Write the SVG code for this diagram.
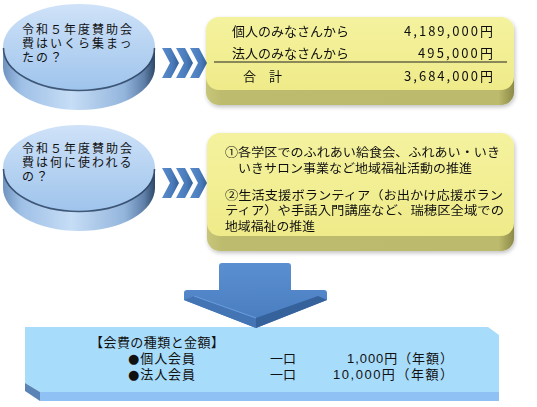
<svg xmlns="http://www.w3.org/2000/svg" width="537" height="407" viewBox="0 0 537 407">
<defs>
<linearGradient id="cylSide" x1="0" y1="0" x2="1" y2="0">
<stop offset="0" stop-color="#6f93bf"/>
<stop offset="0.12" stop-color="#9fc0e6"/>
<stop offset="0.45" stop-color="#c6ddf6"/>
<stop offset="0.8" stop-color="#93b5dc"/>
<stop offset="0.93" stop-color="#5f7fa8"/>
<stop offset="1" stop-color="#2c4768"/>
</linearGradient>
<linearGradient id="cylTop" x1="0" y1="0" x2="0" y2="1">
<stop offset="0" stop-color="#cfe2f8"/>
<stop offset="1" stop-color="#9fc4ec"/>
</linearGradient>
<linearGradient id="chev" x1="0" y1="0" x2="1" y2="0">
<stop offset="0" stop-color="#5a8ccc"/>
<stop offset="0.6" stop-color="#4a7cbc"/>
<stop offset="1" stop-color="#34609a"/>
</linearGradient>
<linearGradient id="yFace" x1="0" y1="0" x2="0" y2="1">
<stop offset="0" stop-color="#f4f29e"/>
<stop offset="1" stop-color="#efeb8a"/>
</linearGradient>
<linearGradient id="ySide" x1="0" y1="0" x2="1" y2="0">
<stop offset="0" stop-color="#c8c67a"/>
<stop offset="0.05" stop-color="#bdbb6d"/>
<stop offset="0.95" stop-color="#bcba6c"/>
<stop offset="1" stop-color="#8c8a48"/>
</linearGradient>
<linearGradient id="arrowG" x1="0" y1="0" x2="0" y2="1">
<stop offset="0" stop-color="#5a8fd2"/>
<stop offset="1" stop-color="#477bbd"/>
</linearGradient>
<filter id="sh" x="-5%" y="-5%" width="110%" height="120%">
<feGaussianBlur in="SourceAlpha" stdDeviation="2"/>
<feOffset dx="1" dy="2"/>
<feComponentTransfer><feFuncA type="linear" slope="0.25"/></feComponentTransfer>
<feMerge><feMergeNode/><feMergeNode in="SourceGraphic"/></feMerge>
</filter>
<polygon id="chevShape" points="0,0 9,0 17,15 9,30 0,30 8,15" fill="url(#chev)"/>
</defs>
<style>
text{font-family:"Liberation Sans","Noto Sans CJK JP","Noto Sans CJK SC",sans-serif;fill:#111;}
.cyl{font-size:12px;letter-spacing:2px;}
.yb{font-size:13px;}
.num{font-family:"Noto Sans CJK JP","Noto Sans CJK SC",sans-serif;}
.yb2{font-size:12px;}
.bt{font-size:13px;}
.dot{font-family:"DejaVu Sans",sans-serif;}
.rim{fill:none;stroke:#2a4262;stroke-width:1.6;stroke-opacity:0.85;}
</style>

<g id="cyl1">
<path d="M3,47 V67 A76,43 0 0 0 155,67 V47 Z" fill="url(#cylSide)"/>
<ellipse cx="79" cy="47" rx="76" ry="43" fill="url(#cylTop)"/>
<path class="rim" d="M3.5,48 A75.5,42.5 0 0 0 154.5,48"/>
<text class="cyl" x="22" y="33.5">令和５年度賛助会</text>
<text class="cyl" x="22" y="47.5">費はいくら集まっ</text>
<text class="cyl" x="22" y="61.5">たの？</text>
</g>

<g id="box1" filter="url(#sh)">
<rect x="206" y="30" width="308" height="75" rx="13" fill="url(#ySide)"/>
<rect x="206" y="17" width="308" height="73" rx="13" fill="url(#yFace)"/>
<text class="yb" x="232" y="35.5">個人のみなさんから</text>
<text class="yb num" x="493" y="35.5" text-anchor="end" textLength="89" lengthAdjust="spacing">4,189,000円</text>
<text class="yb" x="232" y="57.5">法人のみなさんから</text>
<text class="yb num" x="493" y="57.5" text-anchor="end" textLength="75" lengthAdjust="spacing">495,000円</text>
<line x1="214" y1="62" x2="507" y2="62" stroke="#222" stroke-width="1"/>
<text class="yb" x="243" y="80.5">合　計</text>
<text class="yb num" x="493" y="80.5" text-anchor="end" textLength="89" lengthAdjust="spacing">3,684,000円</text>
</g>

<g id="cyl2">
<path d="M3,168 V188 A76,43 0 0 0 155,188 V168 Z" fill="url(#cylSide)"/>
<ellipse cx="79" cy="168" rx="76" ry="43" fill="url(#cylTop)"/>
<path class="rim" d="M3.5,169 A75.5,42.5 0 0 0 154.5,169"/>
<text class="cyl" x="22" y="153">令和５年度賛助会</text>
<text class="cyl" x="22" y="167">費は何に使われる</text>
<text class="cyl" x="22" y="181">の？</text>
</g>

<g id="box2" filter="url(#sh)">
<rect x="207" y="150" width="307" height="101" rx="13" fill="url(#ySide)"/>
<rect x="207" y="133" width="307" height="103" rx="13" fill="url(#yFace)"/>
<text class="yb2" x="225" y="156.5" textLength="275" lengthAdjust="spacingAndGlyphs">①各学区でのふれあい給食会、ふれあい・いき</text>
<text class="yb2" x="238" y="172.5" textLength="234" lengthAdjust="spacingAndGlyphs">いきサロン事業など地域福祉活動の推進</text>
<text class="yb2" x="225" y="199.5" textLength="278" lengthAdjust="spacingAndGlyphs">②生活支援ボランティア（お出かけ応援ボラン</text>
<text class="yb2" x="225" y="215" textLength="279" lengthAdjust="spacingAndGlyphs">ティア）や手話入門講座など、瑞穂区全域での</text>
<text class="yb2" x="225" y="231" textLength="90" lengthAdjust="spacingAndGlyphs">地域福祉の推進</text>
</g>

<g id="box3">
<polygon points="25,327 488,327 499,335 499,392 40,392 25,383" fill="#a8dcfb"/>
<rect x="40" y="392" width="459" height="9" fill="#8fc1f4"/>
<polygon points="25,383 40,392 40,401 25,391" fill="#5a84b6"/>
<text class="bt" x="90" y="347" textLength="134" lengthAdjust="spacing">【会費の種類と金額】</text>
<text class="bt" x="128" y="362.5" textLength="67" lengthAdjust="spacing"><tspan class="dot">●</tspan>個人会員</text>
<text class="bt" x="270" y="362.5">一口</text>
<text class="bt" x="453" y="362.5" text-anchor="end" textLength="106" lengthAdjust="spacing">1,000円（年額）</text>
<text class="bt" x="128" y="378.5" textLength="67" lengthAdjust="spacing"><tspan class="dot">●</tspan>法人会員</text>
<text class="bt" x="270" y="378.5">一口</text>
<text class="bt" x="453" y="378.5" text-anchor="end" textLength="120" lengthAdjust="spacing">10,000円（年額）</text>
</g>

<g id="connectors">
<g id="chevrons1">
<use href="#chevShape" x="162" y="48"/>
<use href="#chevShape" x="176" y="48"/>
<use href="#chevShape" x="190" y="48"/>
</g>
<g id="chevrons2">
<use href="#chevShape" x="162" y="168"/>
<use href="#chevShape" x="176" y="168"/>
<use href="#chevShape" x="190" y="168"/>
</g>
<g id="downArrow">
<path d="M219,290 V266 Q219,263 222,263 H288 Q291,263 291,266 V290 H324 Q327,290 327,293 V300 L256,328 L184,300 V293 Q184,290 187,290 Z" fill="url(#arrowG)"/>
<polygon points="184,300 194,296 256,318 256,328" fill="#4374b4"/>
<polygon points="256,318 318,296 327,300 256,328" fill="#36629c"/>
<line x1="194" y1="296" x2="256" y2="318" stroke="#6a9edd" stroke-width="1"/>
</g>
</g>
</svg>
